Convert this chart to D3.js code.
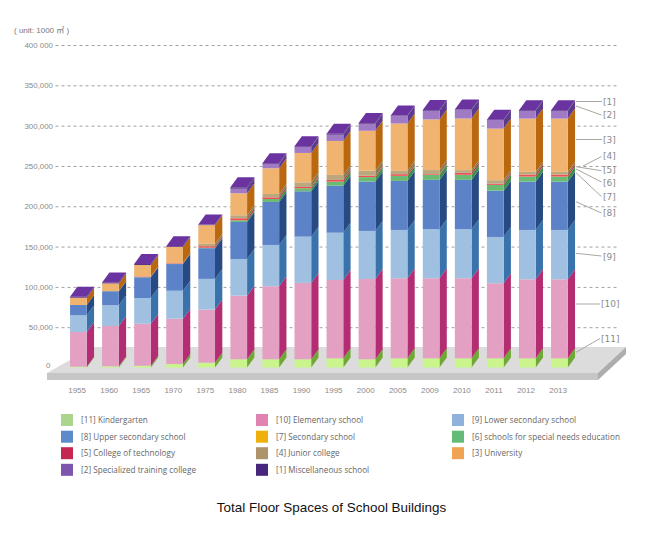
<!DOCTYPE html>
<html>
<head>
<meta charset="utf-8">
<title>Total Floor Spaces of School Buildings</title>
<script src="https://d3js.org/d3.v7.min.js"></script>
<style>
body { margin: 0; background: #fff; }
svg { display: block; }
</style>
</head>
<body>
<svg id="chart" width="650" height="535"></svg>
<script>
// years along the bottom
const years = ["1955","1960","1965","1970","1975","1980","1985","1990","1995","2000","2005","2009","2010","2011","2012","2013"];
const yTicks = [0, 50000, 100000, 150000, 200000, 250000, 300000, 350000, 400000];
const yTickLabels = ["0","50,000","100,000","150,000","200,000","250,000","300,000","350,000","400 000"];

const kindergarten = [1000,1500,2200,4300,6000,10200,10200,10200,11400,10200,11400,11400,11400,11400,11400,11400];
const elementary   = [43000,50000,52100,56200,65800,78900,90600,94700,97100,99600,99300,99300,99300,93100,98000,98000];
const lowerSec     = [20700,25700,31900,34700,38100,45500,51200,57400,58700,59600,59900,60800,60800,57400,61200,61200];
const upperSec     = [12800,17400,25700,33100,38100,45900,53300,56300,58300,61200,60800,61200,61200,57400,59900,59900];
const specialNeeds = [0,100,200,300,600,2100,3700,3700,5000,5500,6200,6200,6200,7100,6200,6200];
const secondary    = [0,0,0,0,0,0,0,0,0,100,100,100,100,100,100,100];
const technology   = [0,0,800,700,1900,2500,2100,1600,2100,1600,2100,900,2500,1600,2500,2500];
const juniorCol    = [0,200,200,300,2900,3700,4100,5800,6200,6200,4100,5000,3300,4200,3300,3300];
const university   = [9100,9400,14000,19900,23200,27300,31900,36400,42200,49600,58700,62800,64000,64000,66100,66100];
const specialized  = [0,0,0,0,0,5700,5300,7400,7800,8700,9200,10800,10400,10400,9600,9600];
const miscellaneous = [1200,1200,1200,900,700,1700,900,900,1200,900,700,900,700,700,900,900];

const seriesNames = ["[11] Kindergarten","[10] Elementary school","[9] Lower secondary school","[8] Upper secondary school","[7] Secondary school","[6] schools for special needs education","[5] College of technology","[4] Junior college","[3] University","[2] Specialized training college","[1] Miscellaneous school"];
// stacking order is not the legend order: [6] sits under [7] in the bars
const stackOrder = ["[11] Kindergarten","[10] Elementary school","[9] Lower secondary school","[8] Upper secondary school","[6] schools for special needs education","[7] Secondary school","[5] College of technology","[4] Junior college","[3] University","[2] Specialized training college","[1] Miscellaneous school"];
const seriesValues = {
    "[11] Kindergarten": kindergarten,
    "[10] Elementary school": elementary,
    "[9] Lower secondary school": lowerSec,
    "[8] Upper secondary school": upperSec,
    "[7] Secondary school": secondary,
    "[6] schools for special needs education": specialNeeds,
    "[5] College of technology": technology,
    "[4] Junior college": juniorCol,
    "[3] University": university,
    "[2] Specialized training college": specialized,
    "[1] Miscellaneous school": miscellaneous
};

// front face, side face, legend swatch
const colours = {
    "[11] Kindergarten": ["#c9f58c","#6fa834","#abd58c"],
    "[10] Elementary school": ["#e3a0c3","#b32d72","#e083b0"],
    "[9] Lower secondary school": ["#9fc0e0","#3a72ab","#8fb2dc"],
    "[8] Upper secondary school": ["#5c83c7","#284a82","#5c8acb"],
    "[7] Secondary school": ["#f0b010","#c08c0a","#efb00c"],
    "[6] schools for special needs education": ["#6cbb74","#3f8d4a","#64bb78"],
    "[5] College of technology": ["#ef5058","#a8303c","#c42850"],
    "[4] Junior college": ["#bba87e","#8a7a58","#ad9469"],
    "[3] University": ["#f0b470","#b9680f","#f0a350"],
    "[2] Specialized training college": ["#a07ac4","#5c3a8c","#7d55ad"],
    "[1] Miscellaneous school": ["#4e2a7c","#3b2266","#47277b"]
};

const calloutTexts = ["[1]","[2]","[3]","[4]","[5]","[6]","[7]","[8]","[9]","[10]","[11]"];

// layout stuff, all by eye from the reference
const barW = 16.7, depthX = 7.3, depthY = 10;
const grey = "#8a8a8a";
const svg = d3.select("#chart");

const x = d3.scalePoint().domain(years).range([78.4, 559.4]);
const y = d3.scaleLinear().domain([0, 400000]).range([367.5, 45]);

// the floor the bars stand on
const floor = svg.append("g");
floor.append("polygon").attr("points", "93,347 626,347 598,373 47,373").attr("fill", "#dcdcdc");
floor.append("polygon").attr("points", "47,373 598,373 598,380 47,380").attr("fill", "#c6c6c6");
floor.append("polygon").attr("points", "598,373 626,347 626,354 598,380").attr("fill", "#adadad");

// y axis, the ticks double as the dashed grid
const yAxis = d3.axisLeft(y)
    .tickValues(yTicks)
    .tickSize(-563)
    .tickPadding(2.5)
    .tickFormat((d, i) => yTickLabels[i]);
const yG = svg.append("g")
    .attr("transform", "translate(55.5,0)")
    .call(yAxis);
yG.select(".domain").remove();
yG.selectAll(".tick line")
    .attr("stroke", "#a0a0a0")
    .attr("stroke-dasharray", "3,3")
    .attr("display", d => d === 0 ? "none" : null);
yG.selectAll(".tick text")
    .attr("fill", grey)
    .attr("font-family", "'Liberation Sans', Arial, sans-serif")
    .attr("font-size", "7.9px");
// the zero label sits a bit higher than its value
yG.selectAll(".tick").filter(d => d === 0).select("text").attr("y", -3).attr("x", -5);

// x axis
const xG = svg.append("g")
    .attr("transform", "translate(-1.8,381)")
    .call(d3.axisBottom(x).tickSize(0).tickPadding(6));
xG.select(".domain").remove();
xG.selectAll(".tick text")
    .attr("fill", grey)
    .attr("font-family", "'Liberation Sans', Arial, sans-serif")
    .attr("font-size", "8px");

// build the stack
const rows = years.map((yr, i) => {
    const row = { year: yr };
    stackOrder.forEach(k => { row[k] = seriesValues[k][i]; });
    return row;
});
const stacked = d3.stack().keys(stackOrder)(rows);

const sidePoints = (d) => {
    const xr = x(d.data.year) + barW / 2;
    const y0 = y(d[0]), y1 = y(d[1]);
    return [[xr, y0], [xr + depthX, y0 - depthY], [xr + depthX, y1 - depthY], [xr, y1]].join(" ");
};

const groups = svg.append("g").selectAll("g")
    .data(stacked)
    .join("g");

// side first so the front goes over it
groups.selectAll("polygon")
    .data(d => d.filter(s => s[1] > s[0]))
    .join("polygon")
    .attr("points", sidePoints)
    .attr("fill", function() { return colours[d3.select(this.parentNode).datum().key][1]; });

groups.selectAll("rect")
    .data(d => d.filter(s => s[1] > s[0]))
    .join("rect")
    .attr("x", d => x(d.data.year) - barW / 2)
    .attr("y", d => y(d[1]))
    .attr("width", barW)
    .attr("height", d => y(d[0]) - y(d[1]))
    .attr("fill", function() { return colours[d3.select(this.parentNode).datum().key][0]; });

// purple lid on every bar
const lastLayer = stacked[stacked.length - 1];
svg.append("g").selectAll("polygon")
    .data(lastLayer)
    .join("polygon")
    .attr("points", d => {
        const xl = x(d.data.year) - barW / 2, t = y(d[1]);
        return [[xl, t], [xl + barW, t], [xl + barW + depthX, t - depthY], [xl + depthX, t - depthY]].join(" ");
    })
    .attr("fill", "#6a339f");

// callouts down the right side: x1,y1 on the bar then x2,y2 at the label
const calloutLines = [
    [576,101.5,602,101.5],[576,106,601.5,115],[576,139.5,602,139.5],[583,166,601.5,156.5],
    [576,166.7,601.5,170.7],[576,169,601.5,182],[576,172.7,601.5,196.7],[576,201.7,601.5,213],
    [576,253.3,601.5,256],[576,304,600,304],[576,352.3,600,338.5]
];
const calloutTextX = [603,603,603,603,603,603,603,603,603,601,601];
const calloutTextY = [102,115,140,156,170,183,197,213,257,304,339];
svg.append("g").selectAll("line")
    .data(calloutLines)
    .join("line")
    .attr("x1", d => d[0]).attr("y1", d => d[1])
    .attr("x2", d => d[2]).attr("y2", d => d[3])
    .attr("stroke", "#a8a8a0");
svg.append("g").selectAll("text")
    .data(calloutTexts)
    .join("text")
    .attr("x", (d, i) => calloutTextX[i])
    .attr("y", (d, i) => calloutTextY[i])
    .attr("dy", "0.35em")
    .attr("fill", grey)
    .attr("font-family", "'DejaVu Sans', sans-serif")
    .attr("font-size", "9px")
    .text(d => d);

// unit text
svg.append("text")
    .attr("x", 14).attr("y", 33)
    .attr("fill", "#777")
    .attr("font-family", "'Liberation Sans', 'Noto Sans CJK JP', sans-serif")
    .attr("font-size", "8px")
    .text("( unit: 1000 ㎡ )");

// legend, three columns
const legendX = [61, 256, 452], legendY = [420, 436.7, 453.2, 469.8];
const legend = svg.append("g").selectAll("g")
    .data(seriesNames)
    .join("g")
    .attr("transform", (d, i) => `translate(${legendX[i % 3]},${legendY[Math.floor(i / 3)]})`);
legend.append("rect")
    .attr("x", 0).attr("y", -6)
    .attr("width", 12).attr("height", 12)
    .attr("fill", d => colours[d][2]);
legend.append("text")
    .attr("x", 20).attr("dy", "0.35em")
    .attr("fill", "#666")
    .attr("font-family", "'Open Sans', sans-serif")
    .attr("font-size", "8.1px")
    .attr("letter-spacing", "0.05px")
    .text(d => d);

// title
svg.append("text")
    .attr("x", 331.5).attr("y", 512)
    .attr("text-anchor", "middle")
    .attr("fill", "#111")
    .attr("font-family", "'Liberation Sans', Arial, sans-serif")
    .attr("font-size", "13.45px")
    .text("Total Floor Spaces of School Buildings");
</script>
</body>
</html>
